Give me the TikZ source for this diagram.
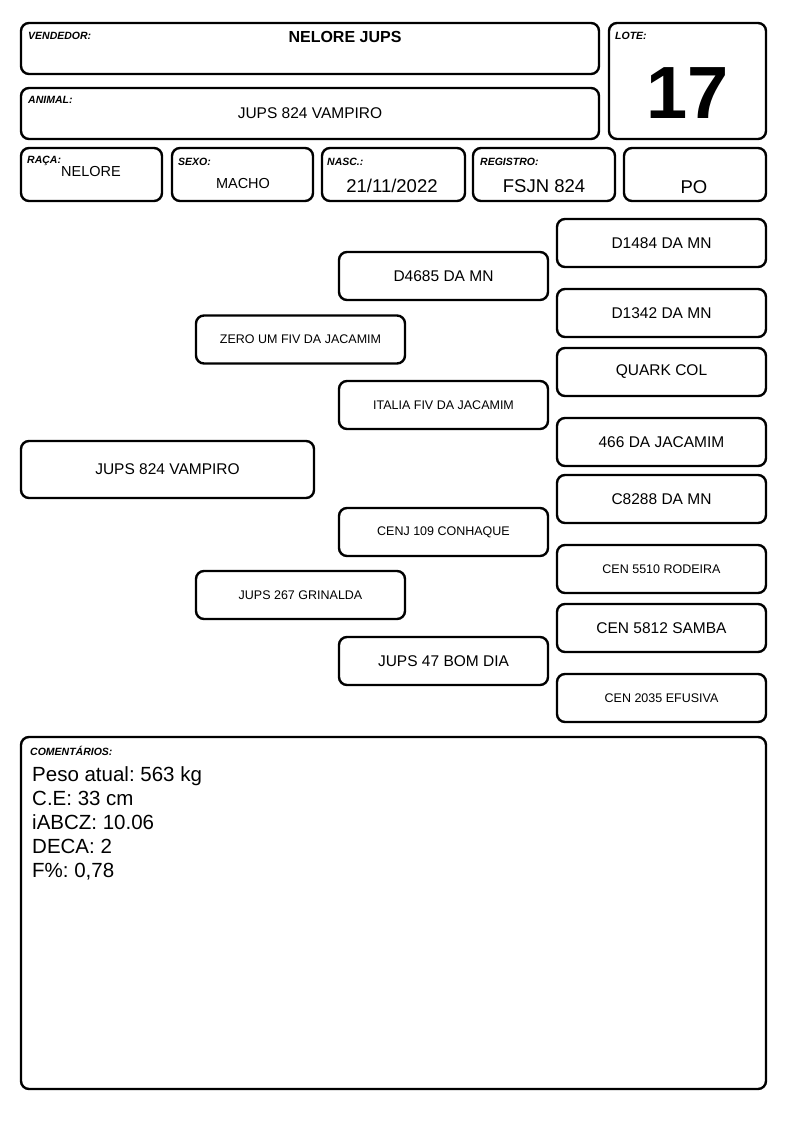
\documentclass[tikz,border=0pt]{standalone}
\usepackage{fontspec}
\setmainfont{Liberation Sans}
\usepackage{tikz}
\usetikzlibrary{positioning}
\frenchspacing

\tikzset{
    caixa/.style={draw, line width=2.4pt, rounded corners=8pt, inner sep=0pt},
    rotulo/.style={anchor=north west, inner sep=0pt, font=\bfseries\itshape\fontsize{10.5}{10.5}\selectfont},
    valor/.style={inner sep=0pt, font=\fontsize{14.5}{14.5}\selectfont},
    valorg/.style={inner sep=0pt, font=\fontsize{18.5}{18.5}\selectfont},
    grande/.style={font=\fontsize{15.5}{15.5}\selectfont},
    pequeno/.style={font=\fontsize{12.5}{12.5}\selectfont},
    ped/.style={caixa, minimum width=209pt, minimum height=48pt},
}

\begin{document}
\begin{tikzpicture}[x=1pt,y=-1pt]
    \useasboundingbox (0,0) rectangle (794,1123);

    % cabecalho
    \node[caixa, minimum width=578pt, minimum height=51pt] (vendedor) at (310,48.5) {};
    \node[rotulo] (lvendedor) at (28,32) {VENDEDOR:};
    \node[inner sep=0pt, font=\bfseries\fontsize{16}{16}\selectfont] (nvendedor) at (345,37) {NELORE JUPS};

    \node[caixa, minimum width=578pt, minimum height=51pt] (animal) at (310,113.5) {};
    \node[rotulo] (lanimal) at (28,96.5) {ANIMAL:};
    \node[valor, font=\fontsize{15.5}{15.5}\selectfont] (nanimal) at (310,113) {JUPS 824 VAMPIRO};

    \node[caixa, minimum width=157pt, minimum height=116pt] (lote) at (687.5,81) {};
    \node[rotulo] (llote) at (615,32) {LOTE:};
    \node[inner sep=0pt, font=\bfseries\fontsize{74}{74}\selectfont] (nlote) at (688,93) {17};

    \node[caixa, minimum width=141pt, minimum height=53pt] (raca) at (91.5,174.5) {};
    \node[rotulo] (lraca) at (27,156) {RAÇA:};
    \node[valor] (nraca) at (91,172) {NELORE};

    \node[caixa, minimum width=141pt, minimum height=53pt] (sexo) at (242.5,174.5) {};
    \node[rotulo] (lsexo) at (178,158) {SEXO:};
    \node[valor] (nsexo) at (243,184) {MACHO};

    \node[caixa, minimum width=143pt, minimum height=53pt] (nasc) at (393.5,174.5) {};
    \node[rotulo] (lnasc) at (327,158) {NASC.:};
    \node[valorg] (nnasc) at (392,186) {21/11/2022};

    \node[caixa, minimum width=142pt, minimum height=53pt] (registro) at (544,174.5) {};
    \node[rotulo] (lregistro) at (480,158) {REGISTRO:};
    \node[valorg] (nregistro) at (544,186) {FSJN 824};

    \node[caixa, minimum width=142pt, minimum height=53pt] (categoria) at (695,174.5) {};
    \node[valorg] (ncategoria) at (694,187) {PO};

    % genealogia
    \node[caixa, grande, minimum width=293pt, minimum height=57pt] (filho) at (167.5,469.5) {JUPS 824 VAMPIRO};

    \node[ped, pequeno] (pai) at (300.5,339.5) {ZERO UM FIV DA JACAMIM};
    \node[ped, pequeno] (mae) at (300.5,595) {JUPS 267 GRINALDA};

    \foreach \y/\nome/\tam [count=\i] in {276/D4685 DA MN/grande, 405/ITALIA FIV DA JACAMIM/pequeno,
        532/CENJ 109 CONHAQUE/pequeno, 661/JUPS 47 BOM DIA/grande}
        \node[ped, \tam] (avo\i) at (443.5,\y) {\nome};

    \foreach \y/\nome/\tam [count=\i] in {243/D1484 DA MN/grande, 313/D1342 DA MN/grande,
        372/QUARK COL/grande, 442/466 DA JACAMIM/grande, 499/C8288 DA MN/grande,
        569/CEN 5510 RODEIRA/pequeno, 628/CEN 5812 SAMBA/grande, 698/CEN 2035 EFUSIVA/pequeno}
        \node[ped, \tam] (bisavo\i) at (661.5,\y) {\nome};

    % comentarios
    \node[caixa, minimum width=745pt, minimum height=352pt] (comentarios) at (393.5,913) {};
    \node[rotulo] (lcomentarios) at (30,746) {COMENTÁRIOS:};
    \node[anchor=north west, inner sep=0pt, align=left, font=\fontsize{20.5}{24}\selectfont] (ncomentarios) at (32,766)
        {Peso atual: 563 kg\\C.E: 33 cm\\iABCZ: 10.06\\DECA: 2\\F\%: 0,78};
\end{tikzpicture}
\end{document}
